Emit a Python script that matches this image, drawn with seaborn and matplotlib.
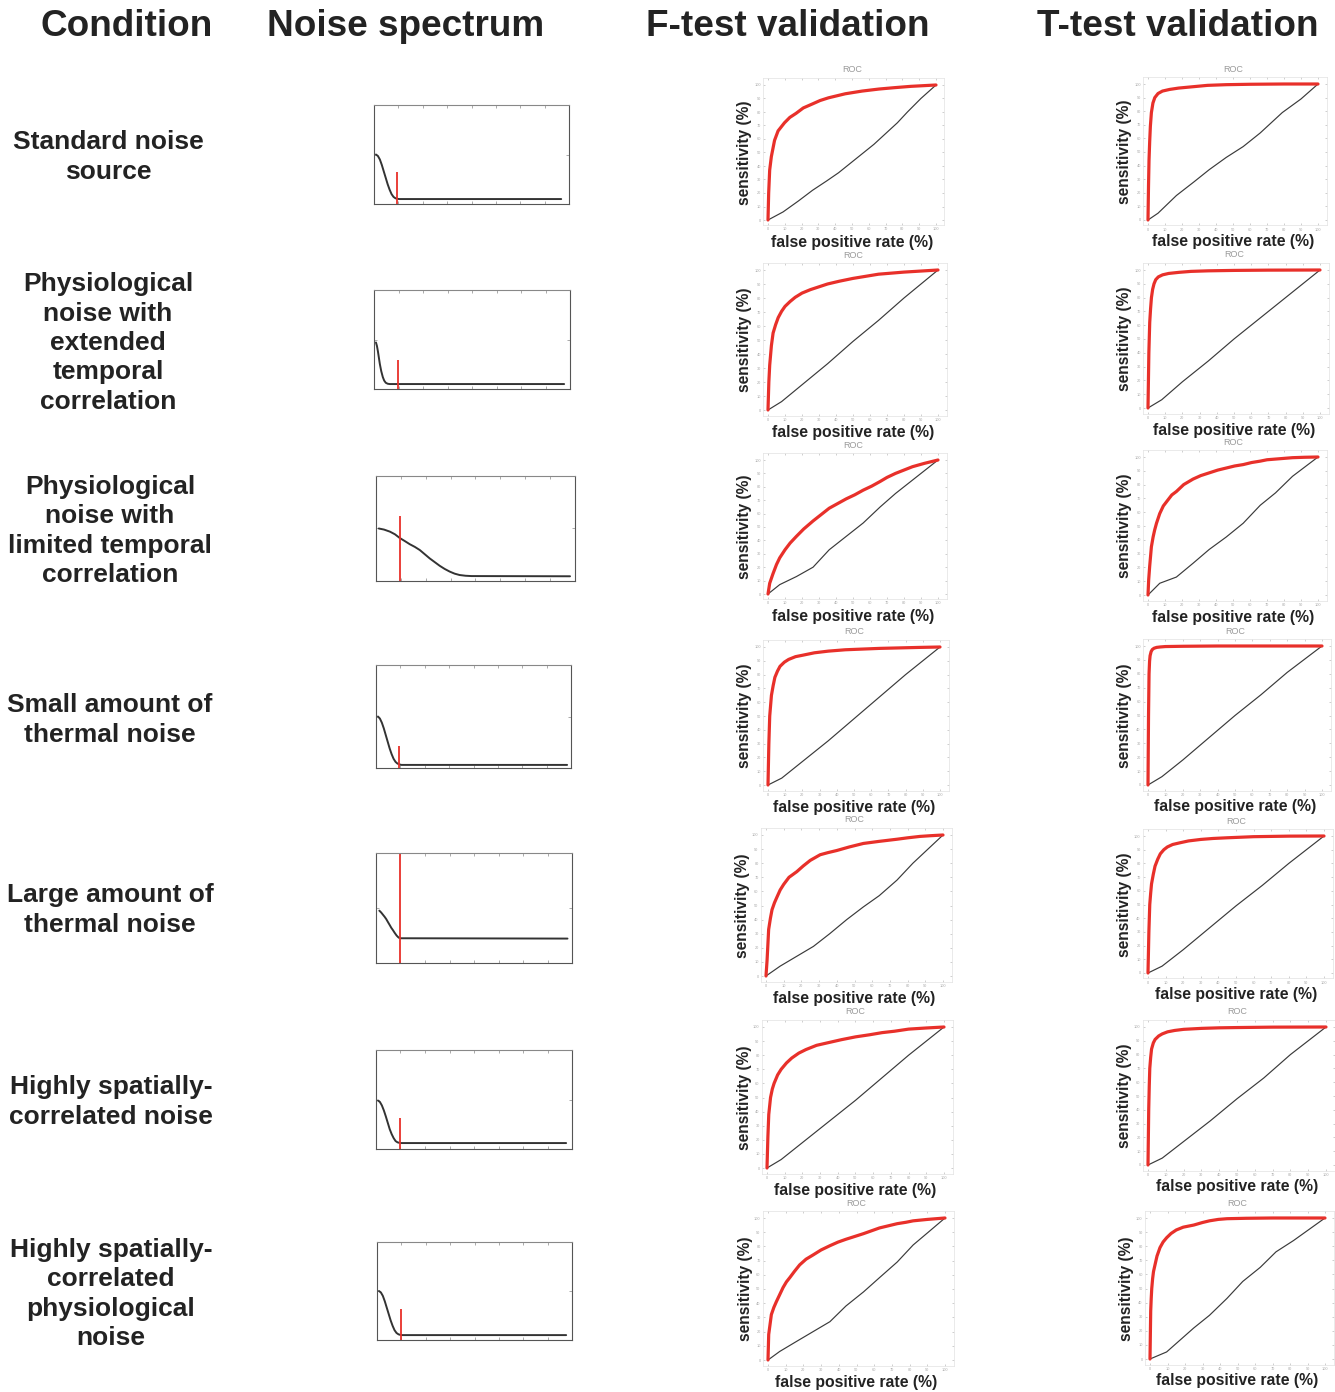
import numpy as np
import pandas as pd
import matplotlib
matplotlib.use("Agg")
import matplotlib.pyplot as plt
import seaborn as sns

# ---------------- data ----------------
headers = ["Condition", "Noise spectrum", "F-test validation", "T-test validation"]

conditions = [
    "Standard noise\nsource",
    "Physiological\nnoise with\nextended\ntemporal\ncorrelation",
    "Physiological\nnoise with\nlimited temporal\ncorrelation",
    "Small amount of\nthermal noise",
    "Large amount of\nthermal noise",
    "Highly spatially-\ncorrelated noise",
    "Highly spatially-\ncorrelated\nphysiological\nnoise",
]

# noise spectra (normalised frequency, normalised power)
spec_x = [
    [0.01, 0.02, 0.03, 0.04, 0.05, 0.06, 0.07, 0.08, 0.09, 0.10, 0.11, 0.12, 0.13, 0.96],
    [0.01, 0.015, 0.02, 0.025, 0.03, 0.037, 0.045, 0.052, 0.06, 0.07, 0.08, 0.97],
    [0.014, 0.04, 0.07, 0.095, 0.119, 0.145, 0.17, 0.195, 0.22, 0.245, 0.27, 0.295,
     0.32, 0.345, 0.37, 0.395, 0.42, 0.45, 0.48, 0.975],
    [0.01, 0.02, 0.03, 0.04, 0.05, 0.06, 0.07, 0.08, 0.09, 0.10, 0.11, 0.12, 0.13, 0.98],
    [0.017, 0.026, 0.035, 0.044, 0.052, 0.061, 0.07, 0.078, 0.086, 0.095, 0.105, 0.113, 0.121, 0.977],
    [0.01, 0.02, 0.03, 0.04, 0.05, 0.06, 0.07, 0.08, 0.09, 0.10, 0.11, 0.12, 0.13, 0.97],
    [0.01, 0.02, 0.03, 0.04, 0.05, 0.06, 0.07, 0.08, 0.09, 0.10, 0.11, 0.12, 0.13, 0.97],
]
spec_y = [
    [0.50, 0.485, 0.45, 0.395, 0.33, 0.265, 0.20, 0.145, 0.10, 0.072, 0.058, 0.052, 0.05, 0.05],
    [0.47, 0.435, 0.38, 0.315, 0.25, 0.18, 0.12, 0.085, 0.063, 0.053, 0.05, 0.05],
    [0.50, 0.49, 0.47, 0.445, 0.41, 0.38, 0.35, 0.325, 0.295, 0.255, 0.215, 0.18,
     0.145, 0.115, 0.09, 0.07, 0.057, 0.05, 0.047, 0.045],
    [0.50, 0.48, 0.44, 0.385, 0.32, 0.255, 0.19, 0.135, 0.09, 0.06, 0.043, 0.035, 0.03, 0.03],
    [0.476, 0.46, 0.44, 0.42, 0.40, 0.372, 0.345, 0.32, 0.30, 0.275, 0.25, 0.235, 0.225, 0.222],
    [0.49, 0.475, 0.44, 0.39, 0.33, 0.265, 0.20, 0.15, 0.11, 0.08, 0.067, 0.062, 0.06, 0.06],
    [0.50, 0.485, 0.45, 0.395, 0.33, 0.265, 0.20, 0.145, 0.10, 0.072, 0.058, 0.052, 0.05, 0.05],
]
spec_cut_x = [0.12, 0.12, 0.119, 0.118, 0.121, 0.122, 0.123]
spec_cut_top = [0.32, 0.29, 0.62, 0.21, 1.0, 0.31, 0.32]

# ROC curves, F-test (false positive rate %, sensitivity %)
f_fpr = [
    [0, 0.4, 1, 2, 3.9, 6, 9.8, 13, 16.7, 21, 26.5, 31, 36, 46, 56, 66, 75, 85, 100],
    [0, 0.5, 1, 2, 3, 4.5, 6, 8, 10, 13, 16, 20, 25, 30, 35, 42, 50, 65, 80, 100],
    [0, 1, 2.9, 5, 6.9, 10, 13, 16.7, 21, 26.5, 31, 36, 41, 46, 51, 56, 61, 66, 70, 75,
     80, 85, 92, 100],
    [0, 0.5, 1, 2, 3, 4, 5.5, 7, 9.5, 12, 16, 20, 27, 35, 45, 55, 65, 75, 88, 100],
    [0, 0.6, 1.5, 2.5, 3.4, 4.8, 6.2, 8, 10, 13, 17.4, 21, 25, 30.6, 35, 40, 47, 55, 64,
     74, 80, 87, 93, 100],
    [0, 0.5, 1, 2, 3, 4, 6, 8, 11, 14, 18, 22, 28, 35, 42, 50, 58, 65, 72, 80, 90, 100],
    [0, 0.4, 1.9, 3.3, 4.7, 6.6, 8.5, 10.4, 12.3, 15, 17.9, 21.5, 25.5, 30, 35, 39.5,
     44, 49, 54, 58.5, 63, 68, 73, 78, 82, 90, 100],
]
f_tpr = [
    [0, 20, 37, 47, 59, 66, 72, 76, 79, 83, 86, 88.5, 90.5, 93.5, 95.5, 97, 98, 99, 100],
    [0, 20, 32, 46, 55, 61, 66, 70.5, 74, 77.5, 80.5, 83.5, 86, 88, 90, 92, 94, 97, 98.5, 100],
    [0, 8, 15, 22, 27, 33, 38, 43, 48.5, 54.5, 59, 64, 67.5, 71, 74, 77.5, 80.5, 84,
     87, 90, 92.5, 95, 97.5, 100],
    [0, 30, 50, 65, 72, 78, 82.5, 86, 89, 91, 93, 94, 95.8, 97, 98, 98.5, 99, 99.3, 99.7, 100],
    [0, 11, 33, 41, 47, 52, 56, 61, 65, 70, 74, 78, 82, 86, 87.5, 89, 91.5, 94, 95.5,
     97, 98, 99, 99.5, 100],
    [0, 22, 38, 50, 56, 60, 66, 70, 74.5, 78, 81.5, 84, 87, 89, 91, 93, 94.5, 96, 97,
     98.5, 99.3, 100],
    [0, 18, 32, 37, 41, 46, 51, 55, 58, 62.5, 67, 71, 74, 77.5, 80.5, 83, 85, 87, 89,
     91, 93, 94.5, 96, 97, 98, 99, 100],
]
f_null_fpr = [
    [0, 9, 18, 26.5, 35, 42, 50, 56, 63, 70, 77, 83, 91, 100],
    [0, 8, 20, 35, 50, 65, 80, 100],
    [0, 6.9, 16.7, 26.5, 36, 46, 56, 66, 75, 85, 100],
    [0, 8, 20, 35, 50, 65, 80, 100],
    [0, 8, 17.4, 26.8, 36, 45.6, 55, 64, 74, 83, 100],
    [0, 8, 20, 35, 50, 65, 80, 100],
    [0, 6.6, 16, 25.5, 35, 44, 54, 63, 73, 82, 91.5, 100],
]
f_null_tpr = [
    [0, 6, 14, 22, 29, 35, 43, 49, 56, 64, 72, 80, 90, 100],
    [0, 6, 18, 33, 49, 64, 80, 100],
    [0, 7, 13, 20, 33, 43, 53, 65, 75, 85, 100],
    [0, 5, 17, 32, 48, 64, 80, 100],
    [0, 7, 14, 21, 30, 40, 49, 57, 68, 80, 100],
    [0, 6, 18, 33, 48, 64, 80, 100],
    [0, 6, 13, 20, 27, 38, 48, 58, 69, 81, 91, 100],
]

# ROC curves, T-test
t_fpr = [
    [0, 0.3, 0.6, 1, 1.4, 2, 2.9, 4, 5.9, 8.5, 12.7, 18, 26.5, 35, 46, 60, 80, 100],
    [0, 0.5, 1, 1.5, 2, 2.7, 3.5, 4.5, 6, 8.5, 12, 18, 25, 35, 50, 70, 100],
    [0, 0.4, 1, 2, 3, 3.9, 5, 6.9, 9, 11.8, 14, 16.7, 21, 26.5, 31, 36, 41, 46, 51, 56,
     61, 66, 70, 75, 80, 85, 92, 100],
    [0, 0.3, 0.6, 0.9, 1.2, 1.8, 2.5, 3.5, 5, 7, 10, 20, 40, 100],
    [0, 0.5, 1, 1.5, 2, 3, 4, 5.5, 7, 9, 11, 14, 18, 23, 30, 37, 45, 60, 80, 100],
    [0, 0.4, 0.7, 1, 1.5, 2, 3, 4, 6, 8, 11, 15, 20, 30, 40, 50, 70, 100],
    [0, 0.4, 0.7, 1, 1.5, 2, 2.9, 4, 5.7, 7.5, 9.5, 12, 15, 19, 25, 30, 34, 39, 44, 55,
     70, 100],
]
t_tpr = [
    [0, 25, 44, 58, 69, 79, 86, 90, 93, 94.8, 96, 97, 98, 99, 99.5, 99.8, 100, 100],
    [0, 40, 62, 72, 80, 86, 90, 93, 95, 96.5, 97.5, 98.3, 99, 99.4, 99.7, 99.9, 100],
    [0, 11, 21, 35, 42, 47, 52, 59, 64.5, 69, 72.5, 75, 80, 84, 86.5, 88.5, 90.5, 92,
     93.5, 94.5, 96, 97, 98, 98.5, 99, 99.5, 99.8, 100],
    [0, 50, 80, 89, 93, 96, 97.5, 98.4, 99, 99.3, 99.6, 99.8, 100, 100],
    [0, 30, 50, 58, 65, 72, 78, 83, 87, 90, 92, 93.8, 95, 96.4, 97.5, 98.2, 98.7, 99.5,
     99.9, 100],
    [0, 40, 57, 70, 78, 84, 88.5, 91, 93.5, 95, 96.5, 97.5, 98.3, 99, 99.4, 99.6, 99.9, 100],
    [0, 34, 43, 50, 57, 62, 67, 73, 79, 83, 86, 89, 91.5, 93.5, 95, 96.8, 98, 99, 99.5,
     99.8, 100, 100],
]
t_null_fpr = [
    [0, 5.9, 16.7, 27, 36, 46, 56, 66, 79, 90, 100],
    [0, 8, 20, 35, 50, 65, 80, 100],
    [0, 6.9, 16.7, 26.5, 36, 46, 56, 66, 75, 85, 100],
    [0, 8, 20, 35, 50, 65, 80, 100],
    [0, 8, 20, 35, 50, 65, 80, 100],
    [0, 8, 20, 35, 50, 65, 80, 100],
    [0, 9.5, 25, 34, 44, 53, 63, 72, 82, 100],
]
t_null_tpr = [
    [0, 5, 18, 28, 37, 46, 54, 64, 79, 89, 100],
    [0, 6, 19, 34, 50, 65, 80, 100],
    [0, 8.5, 13, 23, 33, 42, 52, 65, 74, 86, 100],
    [0, 6, 18, 34, 50, 65, 81, 100],
    [0, 5, 17, 33, 49, 64, 80, 100],
    [0, 5, 17, 32, 48, 63, 80, 100],
    [0, 5, 22, 31, 43, 55, 65, 76, 84, 100],
]

roc_ticks = [0, 10, 20, 30, 40, 50, 60, 70, 80, 90, 100]

# ---------------- layout (pixel boxes) ----------------
W, H = 1335, 1392
spec_boxes = [(374, 569, 105, 204), (374, 570, 290, 389), (376, 575, 476, 581),
              (376, 571, 665, 768), (376, 572, 853, 963), (376, 572, 1050, 1149),
              (377, 572, 1242, 1340)]
f_boxes = [(768, 936, 85, 220), (768, 938, 270, 410), (768, 938, 460, 594),
           (768, 940, 647, 785), (766, 943, 835, 976), (767, 944, 1027, 1168),
           (768, 945, 1218, 1360)]
t_boxes = [(1148, 1318, 84, 220), (1148, 1320, 270, 408), (1148, 1318, 457, 595),
           (1148, 1322, 646, 785), (1148, 1324, 836, 973), (1148, 1326, 1027, 1165),
           (1150, 1325, 1218, 1359)]
label_centers = [(108, 157), (108, 343), (110, 531), (110, 720), (110, 910), (111, 1102), (111, 1294)]
header_x = [127, 406, 788, 1178]

sns.set_style("white")
plt.rcParams['font.family'] = ['Liberation Sans', 'DejaVu Sans']

fig = plt.figure(figsize=(W / 100, H / 100), dpi=100)
fig.patch.set_facecolor("white")

RED = "#e8302a"
DARK = "#333333"
TXT = "#232323"

for i, h in enumerate(headers):
    fig.text(header_x[i] / W, 1 - 27 / H, h, ha="center", va="center",
             fontsize=26.6, fontweight="bold", color=TXT)

for i, c in enumerate(conditions):
    cx, cy = label_centers[i]
    fig.text(cx / W, 1 - cy / H, c, ha="center", va="center", fontsize=19,
             fontweight="bold", color=TXT, linespacing=1.28)

# spectra
for i in range(7):
    x0, x1, y0, y1 = spec_boxes[i]
    ax = fig.add_axes([x0 / W, 1 - y1 / H, (x1 - x0) / W, (y1 - y0) / H])
    df = pd.DataFrame({"f": spec_x[i], "p": spec_y[i]})
    sns.lineplot(data=df, x="f", y="p", ax=ax, color=DARK, lw=1.4, sort=False, estimator=None)
    ax.vlines(spec_cut_x[i], 0, spec_cut_top[i], color=RED, lw=1.3)
    ax.set_xlim(0, 1)
    ax.set_ylim(0, 1)
    ax.set_xlabel("")
    ax.set_ylabel("")
    ax.set_xticks(np.linspace(0, 1, 9))
    ax.set_yticks([0, 0.5, 1])
    ax.tick_params(direction="in", length=2, width=0.5, colors="#888888",
                   labelbottom=False, labelleft=False, top=True, right=True, bottom=True, left=True)
    for s in ax.spines.values():
        s.set_color("#555555")
        s.set_linewidth(0.8)
    ax.spines["top"].set_color("#888888")


def roc_axes(box, fpr, tpr, nfpr, ntpr):
    x0, x1, y0, y1 = box
    xlim = (-3, 105)
    ylim = (-4, 105)
    ppx = (x1 - x0) / 100.0
    ppy = (y1 - y0) / 100.0
    left = x0 - (0 - xlim[0]) * ppx
    width = (xlim[1] - xlim[0]) * ppx
    bottom = y1 + (0 - ylim[0]) * ppy
    height = (ylim[1] - ylim[0]) * ppy
    top = bottom - height
    ax = fig.add_axes([left / W, 1 - bottom / H, width / W, height / H])
    ax.patch.set_alpha(0)
    dn = pd.DataFrame({"fpr": nfpr, "tpr": ntpr})
    sns.lineplot(data=dn, x="fpr", y="tpr", ax=ax, color="#3a3a3a", lw=0.85, sort=False, estimator=None)
    dr = pd.DataFrame({"fpr": fpr, "tpr": tpr})
    sns.lineplot(data=dr, x="fpr", y="tpr", ax=ax, color=RED, lw=2.3, sort=False, estimator=None)
    ax.set_xlim(*xlim)
    ax.set_ylim(*ylim)
    ax.set_xticks(roc_ticks)
    ax.set_yticks(roc_ticks)
    ax.set_xticklabels([str(t) for t in roc_ticks])
    ax.set_yticklabels([str(t) for t in roc_ticks])
    ax.tick_params(direction="in", length=1.5, width=0.4, colors="#aaaaaa", labelsize=2.8,
                   pad=1.5, top=True, right=True, bottom=True, left=True)
    for s in ax.spines.values():
        s.set_color("#e2e2e2")
        s.set_linewidth(0.5)
    cx_frac = ((x0 + x1) / 2 - left) / width
    ax.set_title("ROC", fontsize=6.5, color="#9a9a9a", pad=0, va="center",
                 x=cx_frac, y=1 - ((y0 - 15) - top) / height)
    ax.set_xlabel("false positive rate (%)", fontsize=11.3, fontweight="bold", color=TXT)
    ax.set_ylabel("sensitivity (%)", fontsize=11.2, fontweight="bold", color=TXT)
    ax.xaxis.set_label_coords(cx_frac, 1 - ((y1 + 22) - top) / height)
    ax.yaxis.set_label_coords((x0 - 23 - left) / width, 1 - (((y0 + y1) / 2) - top) / height)
    ax.xaxis.label.set_va("center")
    ax.yaxis.label.set_va("center")
    return ax


for i in range(7):
    roc_axes(f_boxes[i], f_fpr[i], f_tpr[i], f_null_fpr[i], f_null_tpr[i])
    roc_axes(t_boxes[i], t_fpr[i], t_tpr[i], t_null_fpr[i], t_null_tpr[i])

fig.savefig("out.png", dpi=100, facecolor="white")
